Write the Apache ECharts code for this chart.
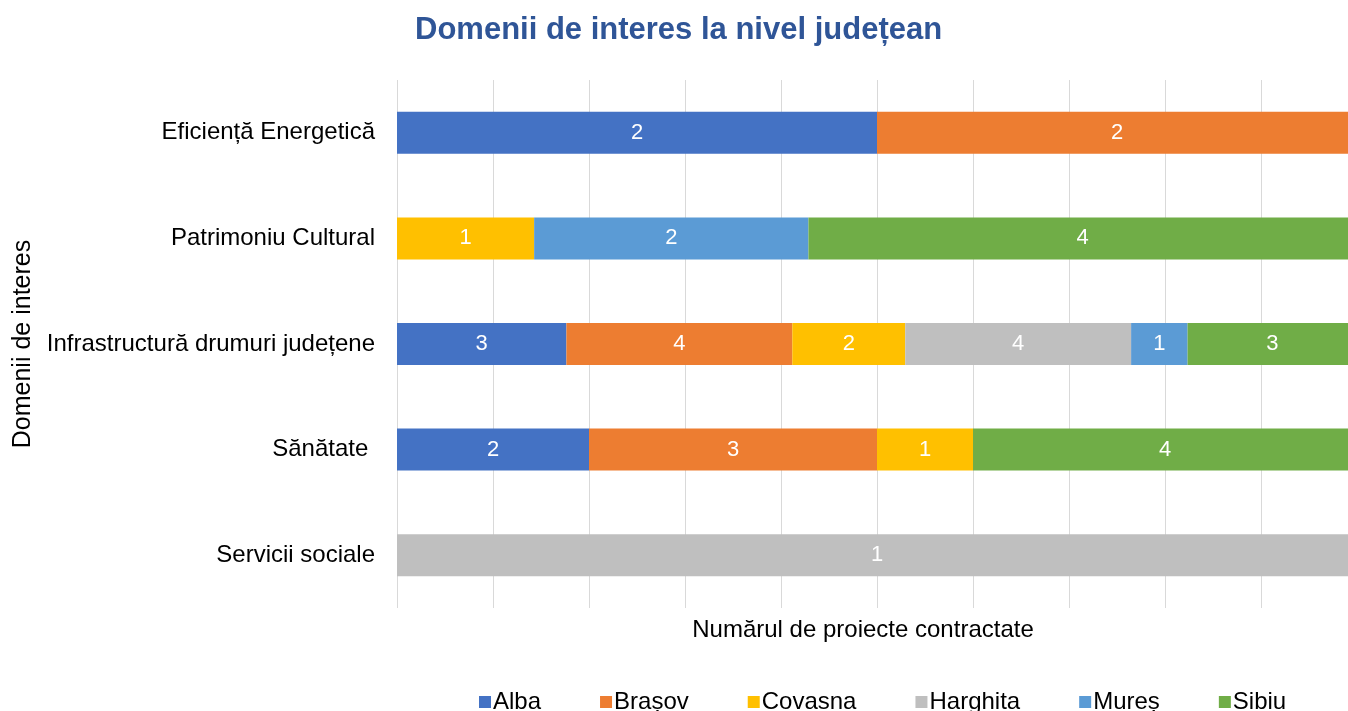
<!DOCTYPE html>
<html>
<head>
<meta charset="utf-8">
<script src="https://cdn.jsdelivr.net/npm/echarts@6/dist/echarts.min.js"></script>
<style>
	html, body { margin: 0; padding: 0; background: #fff; }
	#chart { width: 1348px; height: 711px; }
</style>
</head>
<body>
<div id="chart"></div>
<script>
// categorii (de sus in jos)
const categories = ['Eficiență Energetică', 'Patrimoniu Cultural', 'Infrastructură drumuri județene', 'Sănătate ', 'Servicii sociale'];
const counties = ['Alba', 'Brașov', 'Covasna', 'Harghita', 'Mureș', 'Sibiu'];
const colors = ['#4472C4', '#ED7D31', '#FFC000', '#BFBFBF', '#5B9BD5', '#70AD47'];

// numar de proiecte pe judet, pentru fiecare categorie
const alba = [2, null, 3, 2, null];
const brasov = [2, null, 4, 3, null];
const covasna = [null, 1, 2, 1, null];
const harghita = [null, null, 4, null, 1];
const mures = [null, 2, 1, null, null];
const sibiu = [null, 4, 3, 4, null];
const values = [alba, brasov, covasna, harghita, mures, sibiu];

// totaluri pe categorie -> procente (grafic 100% stivuit)
const totals = categories.map((c, i) => values.reduce((s, arr) => s + (arr[i] || 0), 0));

const series = counties.map((name, k) => ({
	name: name,
	type: 'bar',
	stack: 'total',
	barWidth: 42,
	itemStyle: { color: colors[k] },
	label: {
		show: true,
		position: 'inside',
		color: '#fff',
		fontSize: 22,
		fontFamily: 'Arial',
		formatter: p => p.data.raw
	},
	data: values[k].map((v, i) => v == null ? { value: null, raw: '' } : { value: v / totals[i] * 100, raw: v })
}));

const myChart = echarts.init(document.getElementById('chart'));
const option = {
	animation: false,
	textStyle: { fontFamily: 'Arial' },
	title: {
		text: 'Domenii de interes la nivel județean',
		left: 410,
		top: 10,
		textStyle: { color: '#2F5597', fontSize: 31, fontWeight: 'bold', fontFamily: 'Arial' }
	},
	grid: { left: 397, top: 80, width: 960, height: 528, outerBoundsMode: 'none' },
	legend: {
		left: 474,
		top: 685,
		itemWidth: 12,
		itemHeight: 12,
		itemGap: 59,
		icon: 'rect',
		textStyle: { fontSize: 24, color: '#000', padding: [0, 0, 0, -3] },
		data: counties
	},
	xAxis: {
		type: 'value',
		min: 0,
		max: 100,
		interval: 10,
		name: 'Numărul de proiecte contractate',
		nameLocation: 'middle',
		nameGap: 10,
		nameTextStyle: { fontSize: 24, color: '#000', padding: [0, 28, 0, 0] },
		axisLabel: { show: false },
		axisLine: { show: false },
		axisTick: { show: false },
		splitLine: { lineStyle: { color: '#D9D9D9', width: 1 } }
	},
	yAxis: {
		type: 'category',
		inverse: true,
		data: categories,
		name: 'Domenii de interes',
		nameLocation: 'middle',
		nameGap: 360,
		nameTextStyle: { fontSize: 25, color: '#000' },
		axisLine: { show: false },
		axisTick: { show: false },
		axisLabel: { fontSize: 24, color: '#000', margin: 22 }
	},
	series: series
};
myChart.setOption(option);
</script>
</body>
</html>
